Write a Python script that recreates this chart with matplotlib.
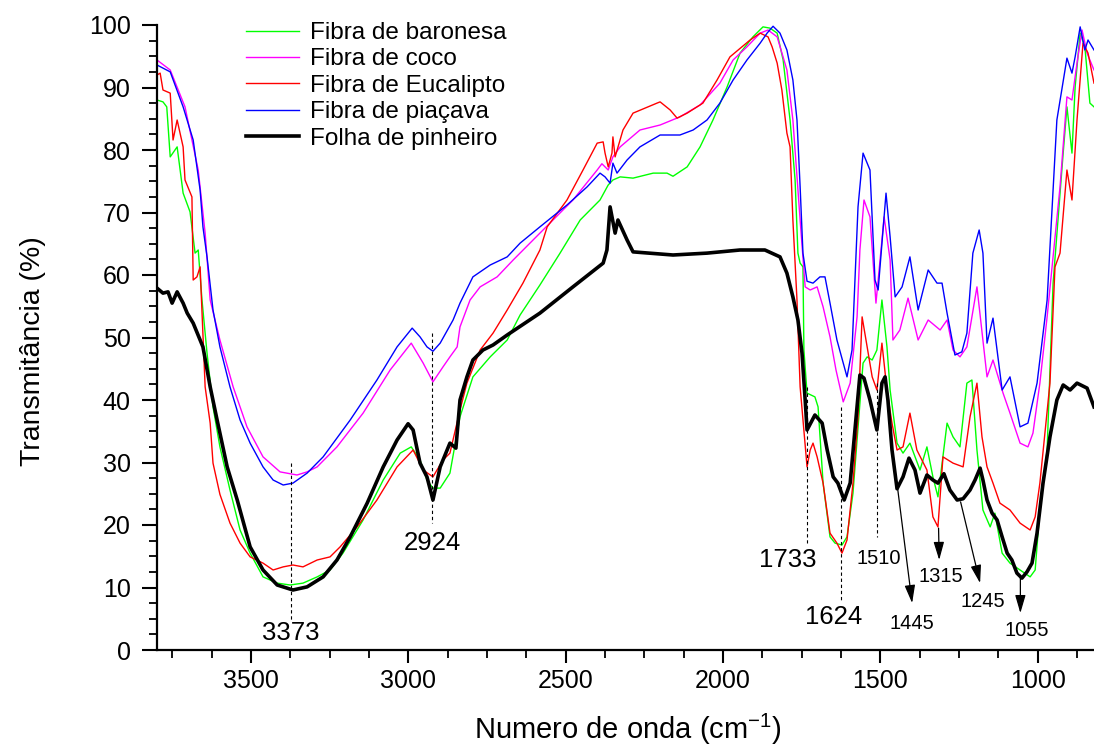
import matplotlib
matplotlib.use("Agg")
import matplotlib.pyplot as plt

plt.rcParams['font.family'] = ['Liberation Sans', 'DejaVu Sans']
plt.rcParams['mathtext.default'] = 'regular'

# FTIR spectra (wavenumber in cm-1, transmittance in %)
baronesa_x = [3799, 3780, 3768, 3757, 3735, 3716, 3694, 3678, 3668, 3656, 3640, 3621, 3599, 3567, 3535, 3503,
              3462, 3417, 3376, 3335, 3290, 3249, 3208, 3144, 3080, 3026, 2991, 2963, 2941, 2922, 2899, 2868,
              2836, 2795, 2740, 2686, 2645, 2582, 2518, 2454, 2391, 2365, 2350, 2327, 2286, 2222, 2178, 2159,
              2114, 2073, 2032, 1987, 1946, 1905, 1873, 1851, 1828, 1809, 1787, 1771, 1762, 1755, 1746, 1743,
              1733, 1708, 1698, 1682, 1660, 1644, 1622, 1606, 1587, 1565, 1555, 1542, 1526, 1511, 1495, 1479,
              1469, 1447, 1428, 1406, 1374, 1352, 1333, 1317, 1288, 1269, 1247, 1225, 1209, 1193, 1174, 1151,
              1136, 1113, 1088, 1056, 1024, 1008, 993, 970, 951, 919, 907, 891, 881, 865, 850, 834, 821]
baronesa_y = [88.0, 87.7, 86.9, 78.9, 80.5, 73.1, 70.1, 63.5, 64.0, 56.0, 47.5, 38.9, 32.5, 25.6, 19.2, 15.5,
              11.7, 10.7, 10.4, 10.7, 11.7, 12.8, 15.5, 20.8, 27.2, 31.5, 32.5, 30.4, 27.2, 25.9, 25.9, 28.3,
              37.3, 43.7, 46.9, 49.6, 53.6, 58.4, 63.5, 68.8, 72.0, 74.4, 75.2, 75.7, 75.5, 76.3, 76.3, 75.8,
              77.3, 80.5, 84.8, 90.1, 95.5, 98.1, 99.7, 99.5, 98.7, 94.4, 84.8, 75.2, 63.5, 61.9, 61.3, 48.0,
              41.1, 40.5, 38.9, 26.7, 18.1, 17.1, 16.8, 18.1, 25.1, 39.5, 45.9, 46.9, 46.4, 48.0, 56.0, 48.5,
              41.6, 33.1, 31.5, 33.1, 28.8, 32.5, 27.7, 24.5, 36.3, 34.1, 32.5, 42.7, 43.2, 32.0, 22.4, 19.7,
              21.9, 15.5, 13.9, 12.8, 11.7, 12.8, 22.4, 32.0, 58.7, 79.5, 86.9, 79.5, 90.1, 98.7, 96.5, 87.5, 86.9]

coco_x = [3799, 3757, 3710, 3668, 3646, 3630, 3599, 3557, 3513, 3462, 3408, 3354, 3322, 3290, 3227, 3144,
          3058, 2991, 2953, 2922, 2890, 2868, 2845, 2836, 2804, 2772, 2718, 2667, 2582, 2477, 2400, 2385,
          2365, 2350, 2327, 2264, 2200, 2137, 2073, 2010, 1968, 1924, 1882, 1857, 1828, 1797, 1778, 1755,
          1739, 1723, 1701, 1682, 1660, 1641, 1618, 1596, 1574, 1565, 1552, 1533, 1514, 1488, 1469, 1460,
          1438, 1412, 1380, 1348, 1310, 1288, 1269, 1247, 1225, 1193, 1161, 1142, 1110, 1088, 1056, 1031,
          1015, 993, 970, 929, 907, 891, 875, 859, 843, 821]
coco_y = [94.4, 92.8, 86.9, 76.8, 66.7, 56.0, 49.6, 42.1, 35.7, 30.9, 28.5, 28.0, 28.5, 29.3, 32.5, 37.9,
          44.8, 49.1, 45.9, 42.9, 45.3, 46.9, 48.5, 51.7, 56.0, 58.1, 59.7, 62.4, 66.7, 72.0, 76.8, 77.8,
          76.8, 78.9, 80.5, 83.2, 84.0, 85.3, 87.2, 90.7, 94.4, 96.5, 98.7, 99.2, 98.1, 92.8, 84.8, 68.8,
          58.1, 57.6, 58.1, 54.9, 50.1, 44.8, 39.7, 42.7, 53.3, 64.0, 72.0, 69.3, 55.5, 69.3, 62.4, 49.6,
          51.2, 56.3, 49.6, 52.8, 51.2, 52.8, 48.0, 46.9, 48.5, 58.1, 43.7, 46.4, 41.1, 37.9, 33.1, 32.5,
          34.7, 42.7, 53.3, 74.1, 88.5, 88.0, 93.9, 99.2, 95.5, 92.8]

eucalipto_x = [3799, 3789, 3780, 3757, 3748, 3735, 3716, 3710, 3688, 3684, 3672, 3662, 3646, 3630, 3621, 3599,
               3567, 3535, 3503, 3462, 3430, 3398, 3367, 3335, 3290, 3249, 3217, 3163, 3100, 3036, 2985, 2953,
               2922, 2890, 2868, 2836, 2814, 2772, 2731, 2686, 2636, 2582, 2559, 2496, 2445, 2400, 2381, 2375,
               2365, 2353, 2350, 2343, 2318, 2286, 2210, 2200, 2168, 2146, 2114, 2064, 2019, 1978, 1914, 1882,
               1857, 1844, 1828, 1813, 1797, 1787, 1778, 1765, 1755, 1733, 1723, 1714, 1701, 1682, 1660, 1638,
               1622, 1606, 1587, 1571, 1558, 1542, 1526, 1511, 1495, 1479, 1463, 1447, 1428, 1406, 1384, 1352,
               1333, 1317, 1301, 1269, 1237, 1215, 1193, 1177, 1161, 1142, 1120, 1088, 1056, 1024, 1008, 993,
               961, 945, 929, 907, 891, 875, 856, 840, 821]
eucalipto_y = [92.0, 92.3, 89.6, 89.1, 81.6, 84.8, 80.5, 75.2, 72.5, 59.2, 59.7, 61.3, 42.1, 36.3, 29.9, 24.9,
               20.3, 17.1, 14.9, 13.9, 12.8, 13.3, 13.6, 13.3, 14.4, 14.9, 16.5, 19.7, 24.0, 29.3, 32.0, 28.8,
               27.7, 30.4, 31.5, 38.4, 42.7, 48.0, 50.7, 54.4, 58.7, 64.0, 67.7, 72.0, 76.8, 81.1, 81.3, 79.5,
               77.3, 79.5, 82.1, 78.9, 83.2, 85.9, 87.5, 87.7, 86.4, 85.1, 85.9, 87.5, 91.2, 94.9, 97.6, 98.7,
               98.1, 96.5, 93.9, 89.6, 82.7, 80.5, 68.8, 56.0, 42.1, 29.3, 32.0, 33.1, 30.9, 26.7, 18.7, 17.1,
               15.5, 17.6, 26.7, 37.3, 53.3, 48.5, 43.7, 41.6, 49.1, 41.6, 36.3, 32.0, 32.5, 37.9, 32.0, 28.8,
               21.3, 19.7, 30.9, 29.9, 29.3, 37.3, 42.7, 34.1, 29.3, 26.7, 23.5, 22.4, 20.3, 19.2, 21.3, 26.7,
               42.7, 61.3, 63.5, 76.8, 72.0, 84.8, 97.1, 95.5, 90.7]

piacava_x = [3799, 3757, 3716, 3684, 3662, 3653, 3640, 3621, 3599, 3567, 3535, 3503, 3462, 3430, 3398, 3367,
             3322, 3271, 3185, 3100, 3036, 2988, 2963, 2941, 2922, 2899, 2858, 2836, 2795, 2740, 2686, 2645,
             2582, 2496, 2432, 2391, 2375, 2359, 2350, 2337, 2305, 2264, 2200, 2137, 2095, 2051, 2010, 1968,
             1924, 1882, 1860, 1841, 1819, 1797, 1778, 1765, 1755, 1746, 1733, 1714, 1692, 1676, 1660, 1638,
             1606, 1590, 1571, 1555, 1533, 1517, 1507, 1482, 1469, 1453, 1431, 1406, 1380, 1348, 1320, 1304,
             1288, 1263, 1241, 1225, 1206, 1186, 1174, 1161, 1142, 1113, 1088, 1056, 1031, 1002, 970, 939,
             907, 891, 881, 865, 850, 840, 821]
piacava_y = [93.6, 92.5, 86.9, 81.6, 73.6, 67.7, 62.9, 54.4, 48.5, 42.1, 36.8, 33.1, 29.3, 27.2, 26.4, 26.7,
             28.3, 30.9, 36.8, 43.2, 48.5, 51.5, 50.1, 48.5, 47.8, 49.1, 52.8, 55.5, 59.7, 61.6, 62.9, 65.1,
             67.7, 71.2, 74.1, 76.3, 75.7, 74.7, 77.9, 76.3, 78.4, 80.5, 82.4, 82.4, 83.2, 84.8, 87.5, 91.2,
             94.4, 97.1, 98.7, 99.8, 98.7, 96.0, 91.2, 84.8, 74.1, 63.5, 59.0, 58.7, 59.7, 59.7, 55.5, 49.6,
             43.7, 48.0, 70.9, 79.5, 76.8, 59.2, 57.6, 73.1, 66.1, 56.5, 58.1, 62.9, 54.4, 60.8, 58.7, 58.7,
             53.9, 47.2, 47.7, 50.7, 63.5, 67.2, 63.5, 49.1, 53.1, 41.6, 43.7, 35.7, 36.3, 42.7, 56.0, 84.8,
             94.7, 92.3, 94.9, 99.7, 96.0, 97.6, 96.0]

pinheiro_x = [3799, 3780, 3764, 3751, 3735, 3716, 3703, 3684, 3653, 3630, 3608, 3576, 3544, 3503, 3462, 3417,
              3367, 3322, 3271, 3227, 3185, 3131, 3080, 3036, 3001, 2985, 2963, 2941, 2922, 2899, 2868, 2849,
              2836, 2814, 2795, 2763, 2731, 2686, 2582, 2477, 2381, 2369, 2359, 2343, 2334, 2305, 2286, 2159,
              2051, 1946, 1867, 1819, 1797, 1778, 1762, 1749, 1739, 1733, 1708, 1685, 1669, 1650, 1635, 1615,
              1596, 1577, 1565, 1552, 1533, 1511, 1495, 1485, 1476, 1463, 1447, 1428, 1409, 1390, 1374, 1352,
              1333, 1317, 1298, 1279, 1256, 1237, 1215, 1199, 1183, 1174, 1161, 1145, 1129, 1113, 1097, 1082,
              1066, 1050, 1034, 1018, 1002, 983, 961, 939, 919, 897, 875, 843, 821]
pinheiro_y = [57.9, 57.1, 57.3, 55.5, 57.3, 55.5, 53.9, 52.3, 48.5, 42.1, 36.8, 29.3, 24.0, 16.5, 12.8, 10.4,
              9.6, 10.1, 11.7, 14.4, 18.1, 23.5, 29.3, 33.6, 36.2, 35.2, 29.9, 27.7, 24.0, 29.3, 33.1, 32.3,
              40.0, 43.7, 46.4, 48.0, 48.8, 50.4, 53.9, 58.1, 61.9, 64.0, 70.9, 66.7, 68.8, 65.6, 63.7, 63.2,
              63.5, 64.0, 64.0, 62.9, 60.3, 56.5, 52.8, 47.5, 40.0, 35.2, 37.6, 36.3, 32.0, 27.7, 26.7, 24.0,
              26.7, 37.3, 44.0, 43.5, 40.0, 35.2, 42.7, 43.7, 40.0, 32.0, 25.8, 27.7, 30.7, 28.8, 25.1, 28.0,
              27.2, 26.7, 28.2, 25.6, 24.0, 24.2, 25.6, 27.2, 29.1, 27.2, 24.0, 21.9, 20.8, 18.1, 15.5, 14.4,
              12.3, 11.5, 12.5, 13.9, 18.7, 26.7, 34.1, 40.0, 42.4, 41.6, 42.7, 41.9, 38.9]

# band assignments: value, dashed line top/bottom, label position, font size
band_marks = [3373, 2924, 1733, 1624, 1510]
band_top = [30.0, 50.7, 42.1, 38.9, 42.7]
band_bottom = [4.8, 20.3, 17.1, 8.0, 18.1]
band_label_x = [3373, 2924, 1793, 1647, 1504]
band_label_y = [2.7, 17.1, 14.4, 5.3, 14.7]
band_label_size = [18.5, 18.5, 18.5, 18.5, 14.5]

arrow_marks = [1445, 1315, 1245, 1055]
arrow_start_y = [25.8, 19.5, 23.7, 11.5]
arrow_end_x = [1399, 1313, 1183, 1055]
arrow_end_y = [7.5, 14.4, 10.7, 5.9]
arrow_label_x = [1400, 1307, 1174, 1034]
arrow_label_y = [4.3, 11.7, 7.7, 3.2]

fig = plt.figure(figsize=(10.94, 7.48), dpi=100)
ax = fig.add_axes([157 / 1094, 1 - 650 / 748, 1 - 157 / 1094, (650 - 25) / 748])

ax.plot(baronesa_x, baronesa_y, color='#00ff00', lw=1.0, label='Fibra de baronesa')
ax.plot(coco_x, coco_y, color='#ff00ff', lw=1.0, label='Fibra de coco')
ax.plot(eucalipto_x, eucalipto_y, color='#ff0000', lw=1.0, label='Fibra de Eucalipto')
ax.plot(piacava_x, piacava_y, color='#0000ff', lw=1.0, label='Fibra de piaçava')
ax.plot(pinheiro_x, pinheiro_y, color='black', lw=2.6, label='Folha de pinheiro')

for wn, top, bot, lx, ly, fs in zip(band_marks, band_top, band_bottom, band_label_x, band_label_y, band_label_size):
    ax.plot([wn, wn], [top, bot], color='black', lw=0.8, dashes=(3, 2.5))
    ax.text(lx, ly, str(wn), fontsize=fs, ha='center', va='center')

for wn, y0, x1, y1, lx, ly in zip(arrow_marks, arrow_start_y, arrow_end_x, arrow_end_y, arrow_label_x, arrow_label_y):
    ax.annotate('', xy=(x1, y1), xytext=(wn, y0),
                arrowprops=dict(arrowstyle='-|>,head_length=0.55,head_width=0.16', color='black',
                                lw=0.9, mutation_scale=20, shrinkA=0, shrinkB=0))
    ax.text(lx, ly, str(wn), fontsize=14.5, ha='center', va='center')

ax.set_xlim(3799, 821)
ax.set_ylim(0, 100)
ax.set_xticks([3500, 3000, 2500, 2000, 1500, 1000])
ax.set_xticks([3750, 3625, 3375, 3250, 3125, 2875, 2750, 2625, 2375, 2250, 2125,
               1875, 1750, 1625, 1375, 1250, 1125, 875], minor=True)
ax.set_yticks(range(0, 101, 10))
ax.set_yticks([v / 2 for v in range(5, 200, 5) if v % 20 != 0], minor=True)

for side in ['top', 'right']:
    ax.spines[side].set_visible(False)
for side in ['left', 'bottom']:
    ax.spines[side].set_linewidth(1.6)

ax.tick_params(axis='both', which='both', direction='out', width=1.5, labelsize=18)
ax.tick_params(axis='y', which='major', length=11, pad=8)
ax.tick_params(axis='y', which='minor', length=6, width=1.3)
ax.tick_params(axis='x', which='major', length=9, pad=5)
ax.tick_params(axis='x', which='minor', length=5.5, width=1.3)

ax.set_xlabel('Numero de onda (cm$^{-1}$)', fontsize=21)
ax.set_ylabel('Transmitância (%)', fontsize=20.5)
ax.xaxis.set_label_coords(0.503, -0.099)
ax.yaxis.set_label_coords(-0.118, 0.478)

ax.legend(loc='upper left', bbox_to_anchor=(246 / 1094, 1 - 22 / 748), bbox_transform=fig.transFigure,
          frameon=False, fontsize=17.5, borderpad=0, borderaxespad=0, handlelength=2.2,
          handletextpad=0.42, labelspacing=0.18)

fig.savefig('out.png', dpi=100)
